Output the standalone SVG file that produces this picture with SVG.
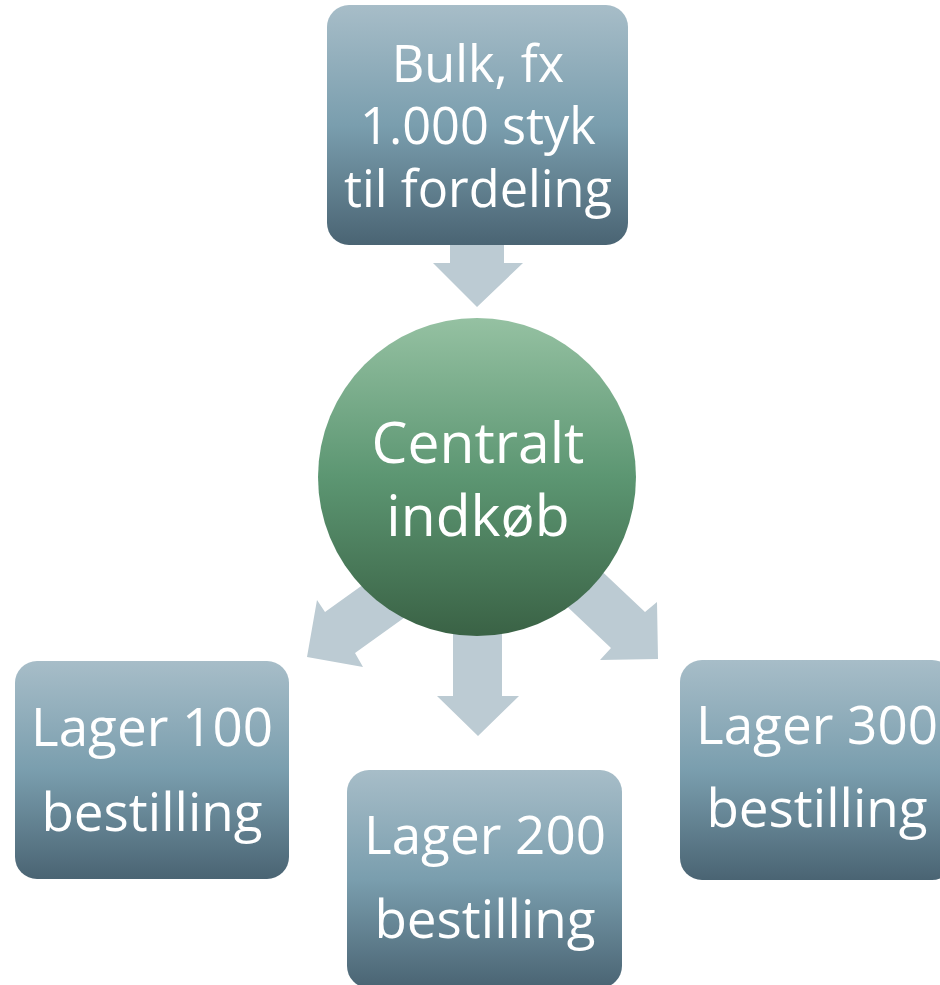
<svg xmlns="http://www.w3.org/2000/svg" width="940" height="985" viewBox="0 0 940 985">
<defs>
<linearGradient id="boxGrad" x1="0" y1="0" x2="0" y2="1">
<stop offset="0" stop-color="#a7bdc8"/>
<stop offset="0.5" stop-color="#7a9eae"/>
<stop offset="1" stop-color="#4a6473"/>
</linearGradient>
<linearGradient id="circGrad" x1="0" y1="0" x2="0" y2="1">
<stop offset="0" stop-color="#95c1a2"/>
<stop offset="0.5" stop-color="#5c9672"/>
<stop offset="1" stop-color="#3a6245"/>
</linearGradient>
<style>
.box{fill:url(#boxGrad);}
.circ{fill:url(#circGrad);}
.arrow{fill:#bccbd3;}
.lbl{fill:#ffffff;font-family:"Open Sans","Noto Sans","DejaVu Sans",sans-serif;text-anchor:middle;}
.s51{font-size:50.5px;}
.s53{font-size:53px;}
.s57{font-size:57px;}
</style>
</defs>
<rect width="940" height="985" fill="#ffffff"/>
<g id="connectors">
<polygon class="arrow" points="450,240 504,240 504,263 523,263 477,307 433,263 450,263"/>
<polygon class="arrow" points="453,600 502,600 502,696 519,696 478,736 437,696 453,696"/>
<polygon class="arrow" points="424,541 454,582 355,653 363,667 307,657 317,600 325,612"/>
<polygon class="arrow" points="555,527 521,563 611,648 600,660 658,659 657,602 645,612"/>
</g>
<g id="bulk">
<rect class="box" x="327" y="5" width="301" height="240" rx="22"/>
<text class="lbl s51" x="478" y="82">Bulk, fx</text>
<text class="lbl s51" x="478" y="144">1.000 styk</text>
<text class="lbl s51" x="478" y="207">til fordeling</text>
</g>
<g id="central">
<circle class="circ" cx="477" cy="477" r="159"/>
<text class="lbl s57" x="478" y="463">Centralt</text>
<text class="lbl s57" x="478" y="536">indkøb</text>
</g>
<g id="lager100">
<rect class="box" x="15" y="661" width="274" height="218" rx="22"/>
<text class="lbl s53" x="152" y="746">Lager 100</text>
<text class="lbl s53" x="152" y="831">bestilling</text>
</g>
<g id="lager200">
<rect class="box" x="347" y="770" width="275" height="218" rx="22"/>
<text class="lbl s53" x="485" y="854">Lager 200</text>
<text class="lbl s53" x="485" y="938">bestilling</text>
</g>
<g id="lager300">
<rect class="box" x="680" y="660" width="274" height="220" rx="22"/>
<text class="lbl s53" x="817" y="744">Lager 300</text>
<text class="lbl s53" x="817" y="827">bestilling</text>
</g>
</svg>
